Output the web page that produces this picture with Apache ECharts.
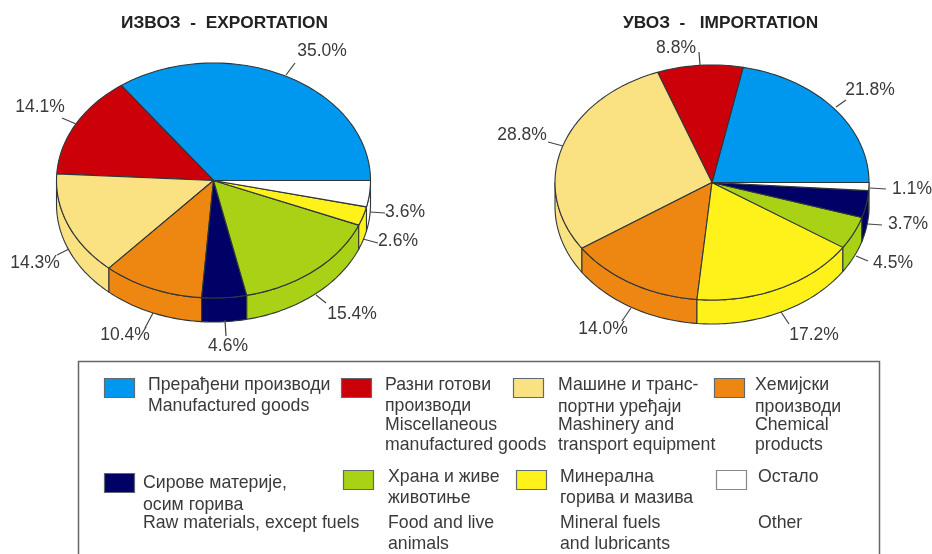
<!DOCTYPE html>
<html>
<head>
<meta charset="utf-8">
<style>html,body{margin:0;padding:0;background:#fff;overflow:hidden}#c{width:932px;height:554px}</style>
<script src="https://cdn.jsdelivr.net/npm/echarts@6/dist/echarts.min.js"></script>
</head>
<body>
<div id="c"></div>
<script>
// ---- data ----
var exportCategories = ['manufactured','miscellaneous','machinery','chemical','raw','food','fuels','other'];
var exportValues     = [35.0, 14.1, 14.3, 10.4, 4.6, 15.4, 2.6, 3.6];
var importCategories = ['manufactured','miscellaneous','machinery','chemical','fuels','food','raw','other'];
var importValues     = [21.8, 8.8, 28.8, 14.0, 17.2, 4.5, 3.7, 1.1];
var titles = ['ИЗВОЗ  -  EXPORTATION', 'УВОЗ  -   IMPORTATION'];
var legendCategories = ['manufactured','miscellaneous','machinery','chemical','raw','food','fuels','other'];
var legendLabels = [
  ['Прерађени производи','Manufactured goods'],
  ['Разни готови','производи','Miscellaneous','manufactured goods'],
  ['Машине и транс-','портни уређаји','Mashinery and','transport equipment'],
  ['Хемијски','производи','Chemical','products'],
  ['Сирове материје,','осим горива','Raw materials, except fuels'],
  ['Храна и живе','животиње','Food and live','animals'],
  ['Минерална','горива и мазива','Mineral fuels','and lubricants'],
  ['Остало','Other']
];

// ---- styles and layout ----
var colors = {manufactured:'#0097EE',miscellaneous:'#CC0009',machinery:'#FAE283',chemical:'#EE8612',
              raw:'#000066',food:'#A9D116',fuels:'#FFF21A',other:'#FFFFFF'};
var EDGE = '#2f363b', TEXT = '#3a3a3a', FONT = '"Liberation Sans", Arial, sans-serif';
var exportPie = {cx:213.5, cy:180.5, rx:157, ry:117.5, depth:24,
  labels:[[322,51],[40,107],[35,263],[125,335],[228,346],[352,314],[398,241],[405,212]],
  leaders:[[[286,75],[295,63]],[[76,124],[62,118]],[[69,249],[57,255]],[[153,313],[145,328]],
           [[225,320],[226,336]],[[316,295],[326,303]],[[363,239],[378,243]],[[370,212],[385,213]]]};
var importPie = {cx:712, cy:182.5, rx:157, ry:117.5, depth:24,
  labels:[[870,90],[676,48],[522,135],[603,329],[814,335],[893,263],[908,224],[912,189]],
  leaders:[[[836,107],[846,100]],[[700,65],[699,52]],[[563,146],[548,142]],[[631,308],[622,321]],
           [[781,312],[789,324]],[[856,256],[868,261]],[[868,224],[882,225]],[[870,188],[886,189]]]};
var legendSwatches = [[104,378],[341,378],[513,378],[714,378],[104,473],[343,470],[516,470],[716,470]];
var legendTextX = [148,385,558,755,143,388,560,758];
var legendTextY = [[385,406],[385,406,425,445],[385,407,425,445],[385,407,425,445],
                   [483,505,523],[477,498,523,544],[477,498,523,544],[477,523]];

function arcPts(p, a0, a1, dy) {
  var n = Math.max(2, Math.ceil(Math.abs(a1 - a0) / 1.5)), out = [];
  for (var i = 0; i <= n; i++) {
    var a = (a0 + (a1 - a0) * i / n) * Math.PI / 180;
    out.push([p.cx + p.rx * Math.cos(a), p.cy - p.ry * Math.sin(a) + dy]);
  }
  return out;
}

function pieSeries(cats, values, p) {
  var total = values.reduce(function (s, v) { return s + v; }, 0);
  return {
    type: 'custom',
    coordinateSystem: 'none',
    silent: true,
    animation: false,
    data: values.map(function (v, i) { return {name: cats[i], value: [i, v]}; }),
    renderItem: function (params, api) {
      var i = api.value(0), before = 0;
      for (var k = 0; k < i; k++) before += values[k];
      var a0 = before / total * 360, a1 = (before + api.value(1)) / total * 360;
      if (i === values.length - 1) a1 = 360;
      var col = colors[cats[i]], kids = [];
      var s0 = Math.max(a0, 180), s1 = a1;
      if (s1 > s0) {
        var top = arcPts(p, s0, s1, 0), bot = arcPts(p, s1, s0, p.depth);
        kids.push({type:'polygon', z2:1, shape:{points: top.concat(bot)},
          style:{fill:col, stroke:EDGE, lineWidth:1.1, lineJoin:'round'}});
      }
      var face = [[p.cx, p.cy]].concat(arcPts(p, a0, a1, 0));
      kids.push({type:'polygon', z2:2, shape:{points: face},
        style:{fill:col, stroke:EDGE, lineWidth:1.1, lineJoin:'round'}});
      var l = p.leaders[i];
      kids.push({type:'line', z2:3, shape:{x1:l[0][0], y1:l[0][1], x2:l[1][0], y2:l[1][1]},
        style:{stroke:'#444', lineWidth:1.2, fill:null}});
      kids.push({type:'text', z2:4, style:{x:p.labels[i][0], y:p.labels[i][1],
        text: api.value(1).toFixed(1) + '%', fill:TEXT,
        fontFamily:FONT, fontSize:17.5, align:'center', verticalAlign:'middle',
        textAlign:'center', textVerticalAlign:'middle'}});
      return {type:'group', children:kids};
    }
  };
}

var graphics = [{type:'rect', z:-1, shape:{x:78.5,y:361.5,width:801,height:220},
  style:{fill:'#fff', stroke:'#666', lineWidth:1.5}}];
legendCategories.forEach(function (c, i) {
  var s = legendSwatches[i];
  graphics.push({type:'rect', shape:{x:s[0]+0.5,y:s[1]+0.5,width:30,height:19},
    style:{fill:colors[c], stroke:c==='other'?'#888':'#5f6a70', lineWidth:1.2}});
  legendLabels[i].forEach(function (t, j) {
    graphics.push({type:'text', style:{x:legendTextX[i], y:legendTextY[i][j], text:t, fill:TEXT,
      fontFamily:FONT, fontSize:17.7, align:'left', verticalAlign:'middle',
      textAlign:'left', textVerticalAlign:'middle'}});
  });
});

var chart = echarts.init(document.getElementById('c'), null, {renderer:'canvas'});
chart.setOption({
  backgroundColor:'#fff',
  animation:false,
  title: [
    {text:titles[0], left:219.5, top:10, textAlign:'center',
     textStyle:{fontFamily:FONT, fontSize:17.3, fontWeight:'bold', color:'#222'}},
    {text:titles[1], left:715.5, top:10, textAlign:'center',
     textStyle:{fontFamily:FONT, fontSize:17.3, fontWeight:'bold', color:'#222'}}
  ],
  series:[pieSeries(exportCategories, exportValues, exportPie),
          pieSeries(importCategories, importValues, importPie)],
  graphic: graphics
});
</script>
</body>
</html>
